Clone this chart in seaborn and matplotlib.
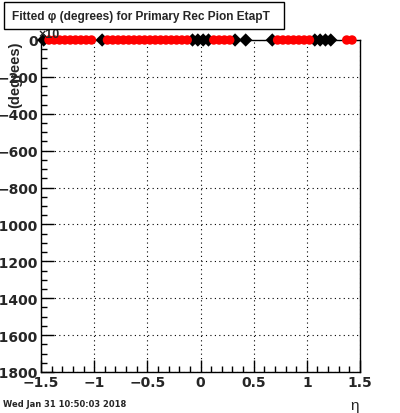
import numpy as np
import pandas as pd
import seaborn as sns
import matplotlib.pyplot as plt
from matplotlib.patches import Rectangle
from matplotlib.ticker import MultipleLocator

# bin centres (eta) of the fitted points, all fitted at phi = 0
eta_black = [-1.475, -0.925, -0.075, -0.025, 0.025, 0.075, 0.325, 0.425,
             0.675, 1.075, 1.125, 1.175, 1.225]
eta_red = [-1.425, -1.375, -1.325, -1.275, -1.225, -1.175, -1.125, -1.075, -1.025,
           -0.875, -0.825, -0.775, -0.725, -0.675, -0.625, -0.575, -0.525,
           -0.475, -0.425, -0.375, -0.325, -0.275, -0.225, -0.175, -0.125,
           0.125, 0.175, 0.225, 0.275,
           0.725, 0.775, 0.825, 0.875, 0.925, 0.975, 1.025,
           1.375, 1.425]
phi_black = [0.0] * len(eta_black)
phi_red = [0.0] * len(eta_red)

df = pd.DataFrame({
    'eta': eta_black + eta_red,
    'phi': phi_black + phi_red,
    'kind': ['all'] * len(eta_black) + ['primary'] * len(eta_red),
})

sns.set_style('ticks')
plt.rcParams['font.family'] = ['Liberation Sans', 'DejaVu Sans']

fig = plt.figure(figsize=(4.0, 4.14), dpi=100)
ax = fig.add_axes([41 / 400, 41 / 414, 319 / 400, 332 / 414])

sns.scatterplot(data=df, x='eta', y='phi', hue='kind', style='kind',
                palette={'all': 'black', 'primary': 'red'},
                markers={'all': 'D', 'primary': 'o'},
                s=46, edgecolor='none', linewidth=0,
                legend=False, ax=ax, zorder=5)
for c in ax.collections:
    c.set_clip_on(False)

ax.set_xlim(-1.5, 1.5)
ax.set_ylim(-1800, 0)
ax.xaxis.set_minor_locator(MultipleLocator(0.1))
ax.yaxis.set_minor_locator(MultipleLocator(50))
ax.tick_params(which='both', direction='in', top=False, right=False,
               color='black', width=1)
ax.tick_params(which='major', length=9, pad=2)
ax.tick_params(which='minor', length=4.5)
tick_font = dict(family='DejaVu Sans', fontweight='bold', fontsize=10)
ax.set_xticks([-1.5, -1, -0.5, 0, 0.5, 1, 1.5])
ax.set_xticklabels(['\u22121.5', '\u22121', '\u22120.5', '0', '0.5', '1', '1.5'],
                   **tick_font)
yt = list(range(-1800, 1, 200))
ax.set_yticks(yt)
ax.set_yticklabels([('\u2212%d' % -v) if v < 0 else '0' for v in yt], **tick_font)
ax.grid(True, which='major', color='black', linestyle=(0, (1, 3)), linewidth=0.8)
for s in ax.spines.values():
    s.set_color('black')
    s.set_linewidth(1)
ax.set_xlabel('')
ax.set_ylabel('')

# title box
fig.patches.append(Rectangle((4 / 400, 1 - 30 / 414), 280 / 400, 27 / 414,
                             transform=fig.transFigure, facecolor='white',
                             edgecolor='black', linewidth=1, zorder=10))
fig.text(12 / 400, 1 - 17 / 414, 'Fitted \u03c6 (degrees) for Primary Rec Pion EtapT',
         fontsize=8.6, fontweight='bold', va='center', ha='left', zorder=11)

fig.text(38 / 400, 1 - 35 / 414, '\u00d710', fontsize=9, fontweight='bold',
         va='center', ha='left')
fig.text(15 / 400, 1 - 42 / 414, '(degrees)', rotation=90, fontsize=10.5,
         fontweight='bold', va='top', ha='center')
fig.text(355 / 400, 1 - 406 / 414, '\u03b7', fontsize=11, va='center', ha='center')
fig.text(3 / 400, 1 - 405 / 414, 'Wed Jan 31 10:50:03 2018', fontsize=6,
         family='DejaVu Sans', fontweight='bold', va='center', ha='left')

fig.savefig('out.png', dpi=100, facecolor='white')
